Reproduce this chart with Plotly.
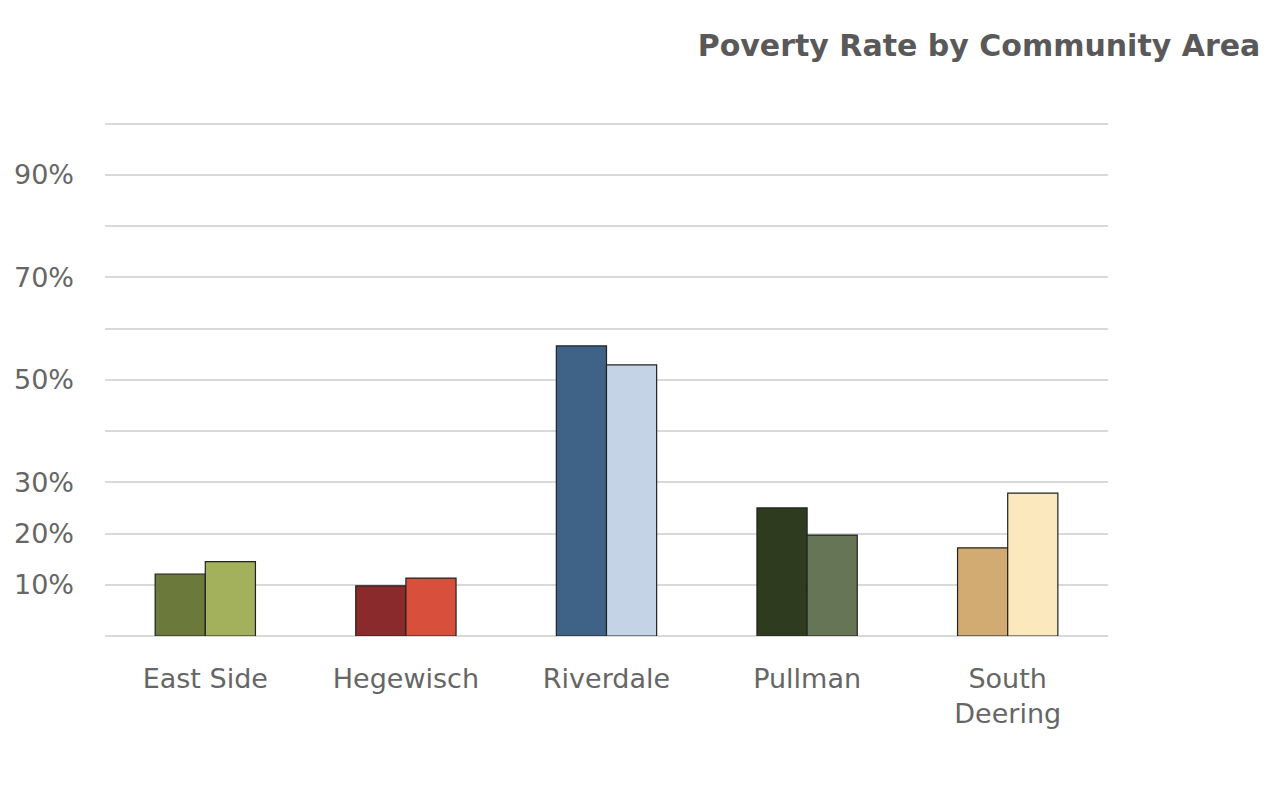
import plotly.graph_objects as go

categories = ["East Side", "Hegewisch", "Riverdale", "Pullman", "South<br>Deering"]
series_a = [12.1, 9.8, 56.6, 25.0, 17.2]
series_b = [14.5, 11.3, 52.9, 19.7, 27.9]
colors_a = ["#6b7a3a", "#8b2a2c", "#3f6386", "#2f3b1e", "#d2ab73"]
colors_b = ["#a3b15c", "#d8503b", "#c4d4e6", "#667555", "#fbe8bd"]
tick_vals = [0, 10, 20, 30, 40, 50, 60, 70, 80, 90, 100]
tick_text = ["", "10%", "20%", "30%", "", "50%", "", "70%", "", "90%", ""]

fig = go.Figure()
fig.add_trace(go.Bar(x=categories, y=series_a, marker=dict(color=colors_a, line=dict(color="#222222", width=1.2)), showlegend=False))
fig.add_trace(go.Bar(x=categories, y=series_b, marker=dict(color=colors_b, line=dict(color="#222222", width=1.2)), showlegend=False))

fig.update_layout(
    width=1253, height=774,
    barmode="group", bargap=0.5, bargroupgap=0,
    plot_bgcolor="white", paper_bgcolor="white",
    margin=dict(l=97, r=153, t=113, b=146),
    font=dict(family="DejaVu Sans, sans-serif", color="#595959"),
    title=dict(text="<b>Poverty Rate by Community Area</b>", x=0.9995, xanchor="right", y=0.952, yanchor="middle",
               font=dict(size=30, color="#595959", family="DejaVu Sans, sans-serif")),
)
fig.update_yaxes(range=[0, 100.5], tickvals=tick_vals, ticktext=tick_text, showgrid=True, automargin=False,
                 gridcolor="#d9d9d9", gridwidth=2, zeroline=True, zerolinecolor="#d9d9d9", zerolinewidth=2,
                 tickfont=dict(size=27, color="#666666"), ticklabelstandoff=30, showline=False)
fig.update_xaxes(showgrid=False, showline=False, automargin=False, tickfont=dict(size=27, color="#666666"), ticklabelstandoff=24)

fig.write_html("out.html")
